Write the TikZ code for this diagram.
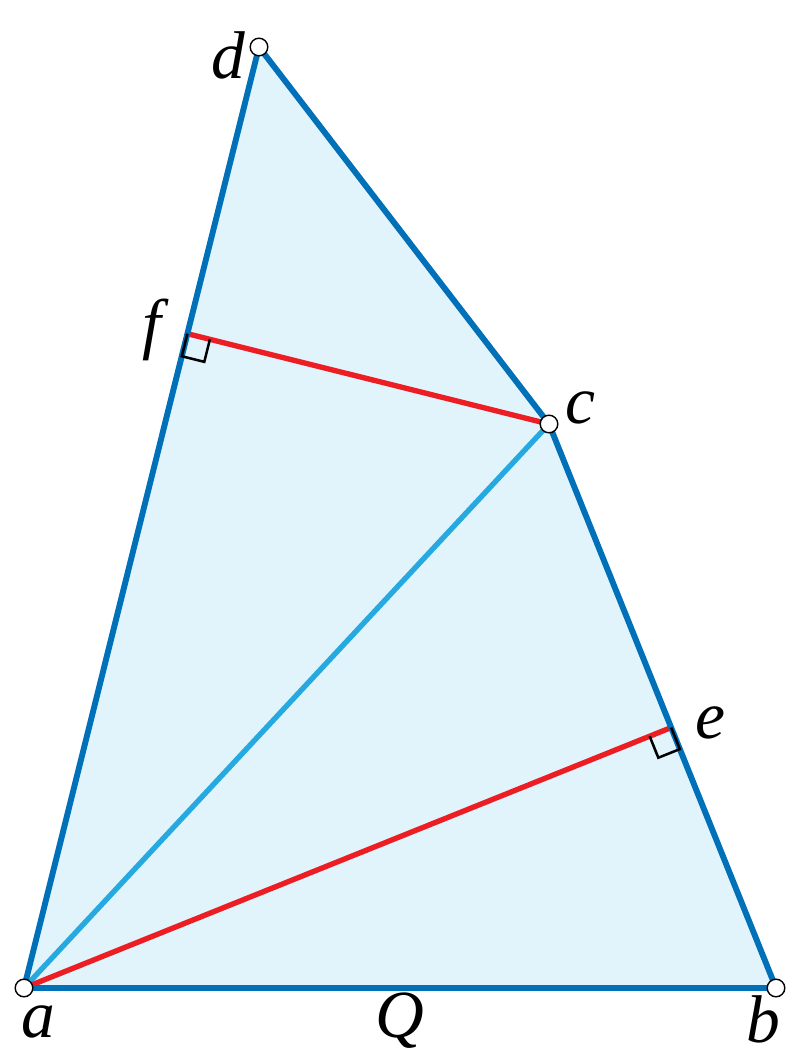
\documentclass[tikz,border=0pt]{standalone}
\usepackage{fontspec}
\setmainfont{Liberation Serif}
\usetikzlibrary{calc}
\definecolor{edgeblue}{RGB}{0,112,185}
\definecolor{diagblue}{RGB}{38,169,224}
\definecolor{paleblue}{RGB}{226,244,251}
\definecolor{perpred}{RGB}{236,30,36}
\tikzset{
    edge/.style={draw=edgeblue, line width=4.2pt, line join=round},
    diag/.style={draw=diagblue, line width=3.8pt},
    perp/.style={draw=perpred, line width=3.8pt},
    rightmark/.style={draw=black, line width=1.8pt},
    vertex/.style={circle, draw=black, fill=white, line width=1pt, minimum size=0.44cm, inner sep=0},
    lbl/.style={font=\fontsize{48}{48}\selectfont\itshape, inner sep=0}
}

\begin{document}
\begin{tikzpicture}[x=0.025cm, y=-0.025cm]
    \useasboundingbox (0,0) rectangle (800,1059);
    \coordinate (a) at (24,988);
    \coordinate (b) at (776,988);
    \coordinate (c) at (549,424);
    \coordinate (d) at (259,47);
    \coordinate (f) at ($(a)!(c)!(d)$);
    \coordinate (e) at ($(b)!(a)!(c)$);
    % quadrilateral
    \fill[paleblue] (a) -- (b) -- (c) -- (d) -- cycle;
    \draw[diag] (a) -- (c);
    \draw[perp] (a) -- (e);
    \draw[perp] (c) -- (f);
    \draw[edge] (a) -- (b) -- (c) -- (d) -- cycle;
    % right angles
    \coordinate (f1) at ($(f)!0.58cm!(a)$);
    \coordinate (f2) at ($(f)!0.58cm!(c)$);
    \draw[rightmark] (f) -- (f1) -- ($(f1)+(f2)-(f)$) -- (f2);
    \coordinate (e1) at ($(e)!0.58cm!(b)$);
    \coordinate (e2) at ($(e)!0.58cm!(a)$);
    \draw[rightmark] (e) -- (e1) -- ($(e1)+(e2)-(e)$) -- (e2);
    % vertices
    \foreach \p in {a,b,c,d}
        \node[vertex] (\p v) at (\p) {};
    % labels
    \node[lbl] (la) at (38,1022) {a};
    \node[lbl] (lb) at (763,1019) {b};
    \node[lbl] (lc) at (580,408) {c};
    \node[lbl] (ld) at (228,55) {d};
    \node[lbl] (le) at (710,723) {e};
    \node[lbl] (lf) at (152,330) {f};
    \node[lbl] (lQ) at (400,1021) {Q};
\end{tikzpicture}
\end{document}
